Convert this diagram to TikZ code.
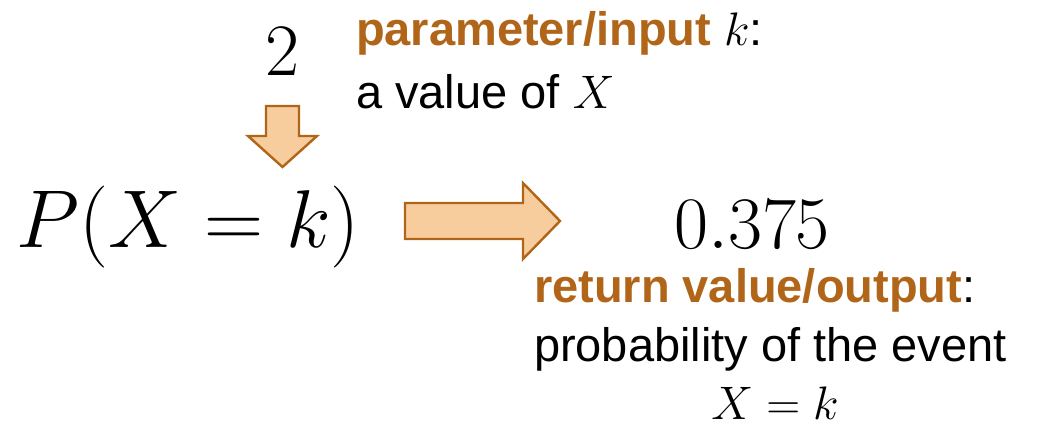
\RequirePackage{fix-cm}
\documentclass[tikz,border=0pt]{standalone}
\usepackage{fontspec}
\setmainfont{Liberation Sans}
\definecolor{accent}{RGB}{176,101,24}
\definecolor{arrowfill}{RGB}{248,205,158}
\tikzset{
  blockarrow/.style={draw=accent, fill=arrowfill, line width=2.4pt, line join=miter},
  txt/.style={inner sep=0pt, outer sep=0pt, anchor=base west, align=left},
  bigmath/.style={inner sep=0pt, outer sep=0pt, anchor=base, font=\fontsize{82}{82}\selectfont},
  midmath/.style={inner sep=0pt, outer sep=0pt, anchor=base, font=\fontsize{74}{74}\selectfont},
  label/.style={txt, font=\fontsize{47}{47}\selectfont},
}
\begin{document}
\begin{tikzpicture}[x=1pt,y=-1pt]
\useasboundingbox (0,0) rectangle (1046,429);
% main expression and value
\node[bigmath] (expr) at (188,247) {$P(X=k)$};
\node[midmath] (two) at (282,75) {$2$};
\node[midmath] (val) at (752,248) {$0.375$};
% block arrows
\draw[blockarrow] (266,106) -- (299,106) -- (299,136) -- (317,136) -- (282.5,167) -- (248,136) -- (266,136) -- cycle;
\draw[blockarrow] (405,203) -- (523,203) -- (523,183) -- (560,221) -- (523,259) -- (523,239) -- (405,239) -- cycle;
% labels
\node[label] (param) at (356,45) {\textcolor{accent}{\bfseries parameter/input} $k$:};
\node[label] (paramv) at (356,108) {a value of $X$};
\node[label] (ret) at (534,302) {\textcolor{accent}{\bfseries return value/output}:};
\node[label] (prob) at (534,361) {probability of the event};
\node[label, anchor=base] (evt) at (775,419) {$X=k$};
\end{tikzpicture}
\end{document}
